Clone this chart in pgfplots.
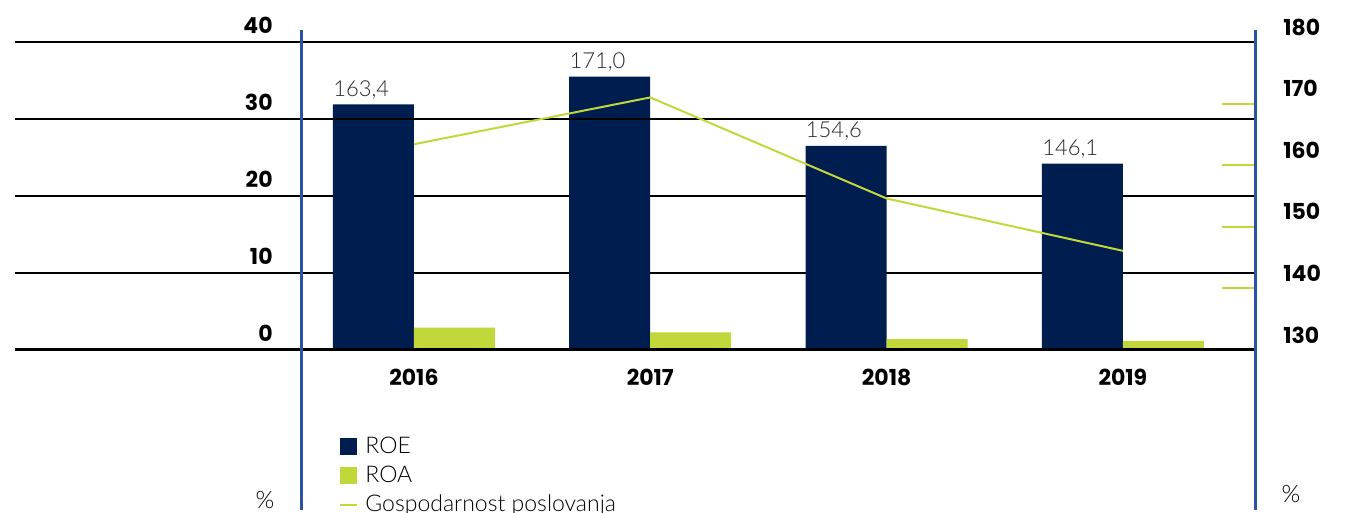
\documentclass[border=0pt]{standalone}
\usepackage{pgfplots}
\pgfplotsset{compat=1.18}
\usepackage{pgfplotstable}
\usepackage{fontspec}
\setmainfont{Lato}
\newfontfamily\lightfont{Lato Light}
\newfontfamily\boldfont{Poppins}
\definecolor{navy}{HTML}{001D50}
\definecolor{lime}{HTML}{C1D73A}
\definecolor{axblue}{HTML}{2B53A0}
\pgfplotstableread{
x roe roa gosp lab
0 31.9 2.9 163.4 163,4
1 35.5 2.3 171.0 171,0
2 26.5 1.4 154.6 154,6
3 24.2 1.2 146.1 146,1
}\data
\begin{document}
\begin{tikzpicture}
\path[use as bounding box] (-7.5pt,-81.5pt) rectangle (667.5pt,175pt);
\begin{axis}[
  scale only axis, width=620pt, height=154pt,
  xmin=-1.688, xmax=3.559, ymin=0, ymax=40,
  axis x line*=bottom, axis y line*=left,
  axis line style={draw=none},
  /pgf/number format/assume math mode=true,
  ytick={0,10,20,30,40},
  xtick={0,1,2,3}, xticklabels={2016,2017,2018,2019},
  ymajorgrids, major grid style={black, line width=0.6pt},
  major tick length=0pt,
  yticklabel style={anchor=east, inner sep=0pt, xshift=129pt, yshift=8.5pt, font=\boldfont\bfseries\fontsize{11}{13}\selectfont},
  xticklabel style={anchor=north, inner sep=0pt, yshift=-9.5pt, font=\boldfont\bfseries\fontsize{11}{13}\selectfont},
  clip=false,
  legend style={draw=none, fill=none, at={(0.2565,-0.262)}, anchor=north west,
    font=\lightfont\fontsize{11.5}{13}\selectfont, nodes={inner sep=0pt, text height=9pt, text depth=2.5pt},
    row sep=3pt, column sep=3.5pt},
  legend cell align=left,
]
\addplot[ybar, bar width=40.5pt, bar shift=-20.25pt, fill=navy, draw=none,
  point meta=explicit symbolic,
  nodes near coords, every node near coord/.append style={anchor=south west, xshift=-40.5pt, inner xsep=0pt, inner ysep=2.5pt, font=\lightfont\fontsize{11}{12}\selectfont, text=black!85},
  legend image code/.code={\fill[navy] (0pt,-4.25pt) rectangle (8.5pt,4.25pt);}]
  table[x=x, y=roe, meta=lab]{\data};
\addlegendentry{ROE}
\addplot[ybar, bar width=40.5pt, bar shift=20.25pt, fill=lime, draw=none,
  legend image code/.code={\fill[lime] (0pt,-4.25pt) rectangle (8.5pt,4.25pt);}]
  table[x=x, y=roa]{\data};
\addlegendentry{ROA}
\addlegendimage{legend image code/.code={\draw[lime, line width=1pt] (0pt,0pt) -- (8.5pt,0pt);}}
\addlegendentry{Gospodarnost poslovanja}
\draw[black, line width=1.5pt] (rel axis cs:0,0) -- (rel axis cs:1,0);
\draw[black, line width=1pt] (rel axis cs:0,0.75) -- (rel axis cs:1,0.75);
\end{axis}
\begin{axis}[
  scale only axis, width=620pt, height=154pt,
  xmin=-1.688, xmax=3.559, ymin=130, ymax=180,
  axis x line=none, axis y line*=right,
  y axis line style={draw=none},
  /pgf/number format/assume math mode=true,
  ytick={130,140,...,180},
  major tick length=0pt,
  extra y ticks={140,150,160,170}, extra y tick labels={},
  extra y tick style={major tick length=16.5pt, tick align=inside, major tick style={lime, line width=1pt}},
  yticklabel style={anchor=west, inner sep=0pt, xshift=14pt, yshift=7.5pt, font=\boldfont\bfseries\fontsize{11}{13}\selectfont},
  clip=false,
]
\addplot[lime, line width=1pt] table[x=x, y=gosp]{\data};
\end{axis}
\draw[axblue, line width=1.5pt] (143pt,160pt) -- (143pt,-80pt);
\draw[axblue, line width=1.5pt] (620pt,160pt) -- (620pt,-80pt);
\node[font=\lightfont\fontsize{12}{14}\selectfont] at (125pt,-75pt) {\%};
\node[font=\lightfont\fontsize{12}{14}\selectfont] at (638pt,-72pt) {\%};
\end{tikzpicture}
\end{document}
